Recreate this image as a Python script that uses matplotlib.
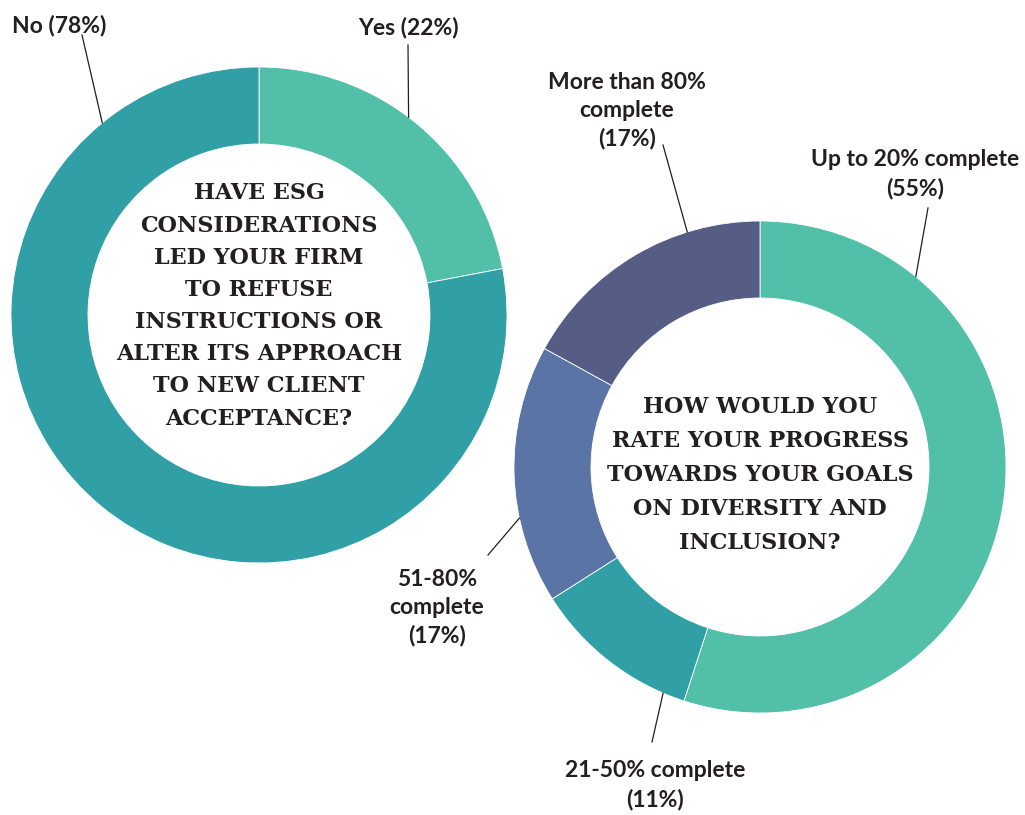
import numpy as np
import matplotlib.pyplot as plt

# survey answers
esg_labels = ['Yes', 'No']
esg_values = [22, 78]
esg_question = ('HAVE ESG\nCONSIDERATIONS\nLED YOUR FIRM\nTO REFUSE\nINSTRUCTIONS OR\n'
                'ALTER ITS APPROACH\nTO NEW CLIENT\nACCEPTANCE?')

di_labels = ['Up to 20% complete', '21-50% complete', '51-80%\ncomplete', 'More than 80%\ncomplete']
di_values = [55, 11, 17, 17]
di_question = 'HOW WOULD YOU\nRATE YOUR PROGRESS\nTOWARDS YOUR GOALS\nON DIVERSITY AND\nINCLUSION?'

LIGHT = '#52c0a8'
TEAL = '#31a0a6'
BLUE = '#5a74a5'
NAVY = '#555d85'
INK = '#231f20'

W, H = 1025, 815
fig = plt.figure(figsize=(W / 100, H / 100), dpi=100)
ax = fig.add_axes([0, 0, 1, 1])

wp = dict(width=77, edgecolor='white', linewidth=0.6)

left_c, left_r = (259, 500), 248
right_c, right_r = (760, 348), 246

ax.pie(esg_values, colors=[LIGHT, TEAL], radius=left_r, center=left_c,
       startangle=90, counterclock=False, wedgeprops=wp)
ax.pie(di_values, colors=[LIGHT, TEAL, BLUE, NAVY], radius=right_r, center=right_c,
       startangle=90, counterclock=False, wedgeprops=wp)

ax.set_xlim(0, W)
ax.set_ylim(0, H)
ax.set_aspect('equal')
ax.axis('off')

lab_font = dict(family='Lato', fontweight='bold', fontsize=16.5, color=INK,
                ha='center', va='center', linespacing=1.4)


def label(text, xy, line_end, center, radius, ang):
    a = np.deg2rad(ang)
    p = (center[0] + radius * np.cos(a), center[1] + radius * np.sin(a))
    ax.plot([p[0], line_end[0]], [p[1], line_end[1]], color=INK, lw=0.9)
    ax.text(xy[0], xy[1], text, **lab_font)


# left donut labels
label(f'{esg_labels[1]} ({esg_values[1]}%)', (59, 790), (82, 780), left_c, left_r, 129.2)
label(f'{esg_labels[0]} ({esg_values[0]}%)', (408, 788), (408, 770), left_c, left_r, 52.9)

# right donut labels
label(f'{di_labels[0]}\n({di_values[0]}%)', (915, 641), (928, 607), right_c, right_r, 50.7)
label(f'{di_labels[1]}\n({di_values[1]}%)', (655, 30), (652, 73), right_c, right_r, 246.8)
label(f'{di_labels[2]}\n({di_values[2]}%)', (437, 207), (488, 260), right_c, right_r, 192)
label(f'{di_labels[3]}\n({di_values[3]}%)', (627, 704), (663, 670), right_c, right_r, 107.2)

q_font = dict(family='DejaVu Serif', fontweight='bold', fontsize=16, color=INK,
              ha='center', va='center')
ax.text(259, 509, esg_question, linespacing=1.6, **q_font)
ax.text(760, 340, di_question, linespacing=1.7, **q_font)

fig.savefig('out.png', dpi=100)
